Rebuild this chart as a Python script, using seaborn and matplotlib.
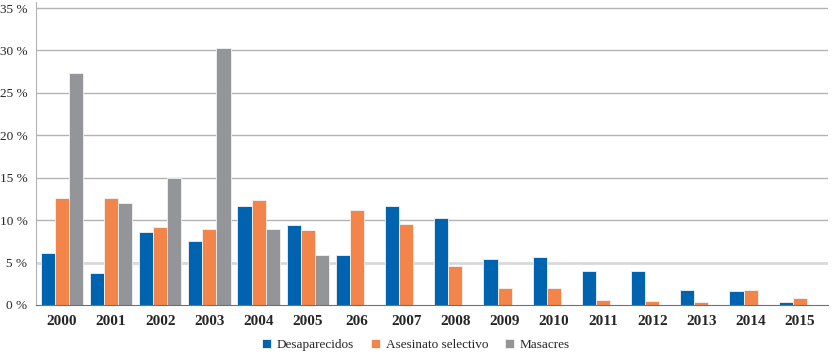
import numpy as np
import pandas as pd
import matplotlib.pyplot as plt
import seaborn as sns

# Data (percent)
years = ['2000', '2001', '2002', '2003', '2004', '2005', '206', '2007',
         '2008', '2009', '2010', '2011', '2012', '2013', '2014', '2015']
desaparecidos = [6.1, 3.8, 8.6, 7.6, 11.7, 9.4, 5.9, 11.7,
                 10.3, 5.4, 5.7, 4.0, 4.0, 1.8, 1.7, 0.35]
asesinato = [12.6, 12.6, 9.2, 9.0, 12.4, 8.8, 11.2, 9.6,
             4.6, 2.0, 2.0, 0.6, 0.5, 0.35, 1.8, 0.8]
masacres = [27.3, 12.0, 15.0, 30.3, 9.0, 5.9, 0, 0,
            0, 0, 0, 0, 0, 0, 0, 0]
series_names = ['Desaparecidos', 'Asesinato selectivo', 'Masacres']
colors = ['#0063b0', '#f4854a', '#939598']

df = pd.DataFrame({
    'year': years * 3,
    'serie': np.repeat(series_names, len(years)),
    'valor': desaparecidos + asesinato + masacres,
})

sns.set_style('white')
plt.rcParams['font.family'] = ['Liberation Serif', 'DejaVu Serif']

fig, ax = plt.subplots(figsize=(8.32, 3.53), dpi=100)
fig.subplots_adjust(left=0.043, right=0.995, top=0.994, bottom=0.136)

sns.barplot(data=df, x='year', y='valor', hue='serie', palette=colors,
            saturation=1, width=0.86, edgecolor='#f2f2f2', linewidth=0.6,
            ax=ax, zorder=3)

# gridlines
for v in [10, 15, 20, 25, 30, 35]:
    ax.axhline(v, color='#b3b3b3', lw=1, zorder=0)
ax.axhline(5, color='#d9d9d9', lw=2, zorder=0)

ax.set_ylim(0, 35.7)
ax.set_xlim(-0.53, 15.57)
ax.set_yticks(range(0, 40, 5))
ax.set_yticklabels([f'{v} %' for v in range(0, 40, 5)], fontsize=9.5)
ax.tick_params(axis='x', labelsize=11, length=0, pad=7)
ax.tick_params(axis='y', length=0, pad=6)
for lab in ax.get_xticklabels():
    lab.set_fontweight('bold')
ax.set_xlabel('')
ax.set_ylabel('')

for s in ['top', 'right']:
    ax.spines[s].set_visible(False)
ax.spines['left'].set_color('#b3b3b3')
ax.spines['bottom'].set_color('#707070')
ax.spines['bottom'].set_zorder(4)

handles, labels = ax.get_legend_handles_labels()
ax.legend(handles, labels, loc='center', bbox_to_anchor=(0.5, 0.022),
          bbox_transform=fig.transFigure, ncol=3, frameon=False,
          prop={'family': 'Liberation Serif', 'size': 9.5},
          handlelength=0.7, handleheight=0.7, handletextpad=0.4,
          columnspacing=1.3)

plt.savefig('out.png', dpi=100)
